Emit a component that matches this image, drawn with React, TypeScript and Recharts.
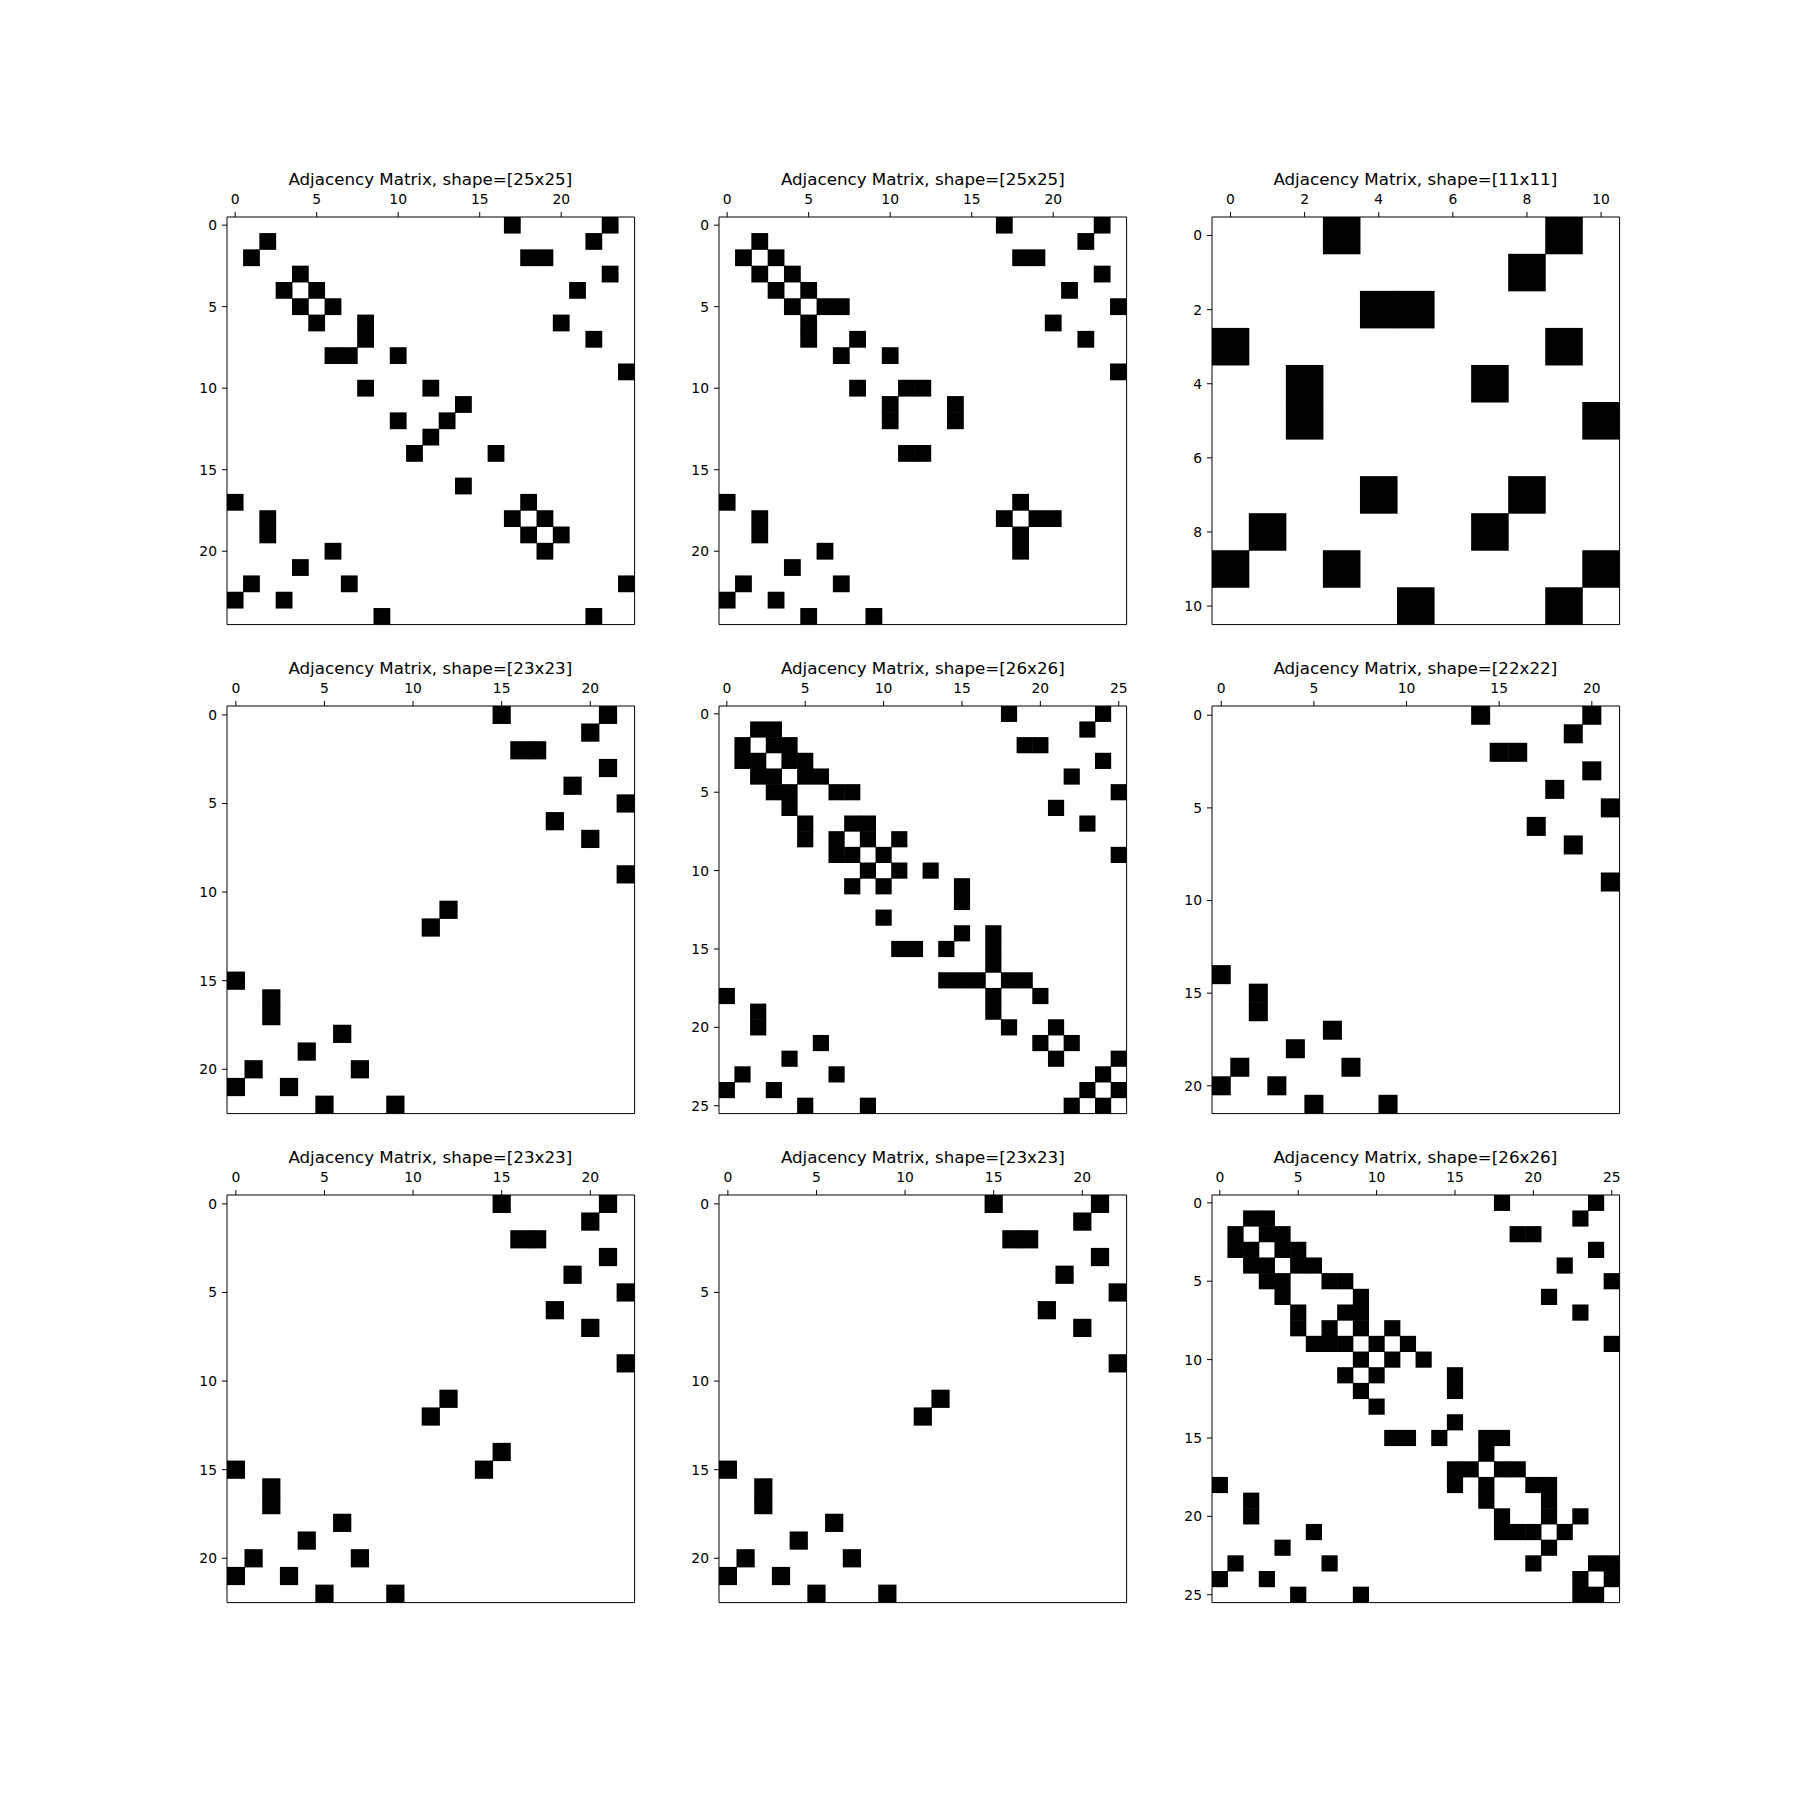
import { ScatterChart, Scatter, XAxis, YAxis } from "recharts"

// each matrix is stored as adjacency lists: row i -> columns holding a 1
const adj1: number[][] = [
  [17, 23], [2, 22], [1, 18, 19], [4, 23], [3, 5, 21],
  [4, 6], [5, 8, 20], [8, 22], [6, 7, 10], [24],
  [8, 12], [14], [10, 13], [12], [11, 16],
  [], [14], [0, 18], [2, 17, 19], [2, 18, 20],
  [6, 19], [4], [1, 7, 24], [0, 3], [9, 22],
]

const adj2: number[][] = [
  [17, 23], [2, 22], [1, 3, 18, 19], [2, 4, 23], [3, 5, 21],
  [4, 6, 7, 24], [5, 20], [5, 8, 22], [7, 10], [24],
  [8, 11, 12], [10, 14], [10, 14], [], [11, 12],
  [], [], [0, 18], [2, 17, 19, 20], [2, 18],
  [6, 18], [4], [1, 7], [0, 3], [5, 9],
]

const adj3: number[][] = [
  [3, 9], [8], [4, 5], [0, 9], [2, 7], [2, 10],
  [], [4, 8], [1, 7], [0, 3, 10], [5, 9],
]

const adj4: number[][] = [
  [15, 21], [20], [16, 17], [21], [19], [22], [18], [20], [], [22],
  [], [12], [11], [], [], [0], [2], [2], [6], [4],
  [1, 7], [0, 3], [5, 9],
]

const adj5: number[][] = [
  [18, 24], [2, 3, 23], [1, 3, 4, 19, 20], [1, 2, 4, 5, 24], [2, 3, 5, 6, 22],
  [3, 4, 7, 8, 25], [4, 21], [5, 8, 9, 23], [5, 7, 9, 11], [7, 8, 10, 25],
  [9, 11, 13], [8, 10, 15], [15], [10], [15, 17],
  [11, 12, 14, 17], [17], [14, 15, 16, 18, 19], [0, 17, 20], [2, 17],
  [2, 18, 21], [6, 20, 22], [4, 21, 25], [1, 7, 24], [0, 3, 23, 25],
  [5, 9, 22, 24],
]

const adj6: number[][] = [
  [14, 20], [19], [15, 16], [20], [18], [21], [17], [19], [], [21],
  [], [], [], [], [0], [2], [2], [6], [4], [1, 7],
  [0, 3], [5, 9],
]

const adj7: number[][] = [
  [15, 21], [20], [16, 17], [21], [19], [22], [18], [20], [], [22],
  [], [12], [11], [], [15], [0, 14], [2], [2], [6], [4],
  [1, 7], [0, 3], [5, 9],
]

const adj8: number[][] = [
  [15, 21], [20], [16, 17], [21], [19], [22], [18], [20], [], [22],
  [], [12], [11], [], [], [0], [2], [2], [6], [4],
  [1, 7], [0, 3], [5, 9],
]

const adj9: number[][] = [
  [18, 24], [2, 3, 23], [1, 3, 4, 19, 20], [1, 2, 4, 5, 24], [2, 3, 5, 6, 22],
  [3, 4, 7, 8, 25], [4, 9, 21], [5, 8, 9, 23], [5, 7, 9, 11], [6, 7, 8, 10, 12, 25],
  [9, 11, 13], [8, 10, 15], [9, 15], [10], [15],
  [11, 12, 14, 17, 18], [17], [15, 16, 18, 19], [0, 15, 17, 20, 21], [2, 17, 21],
  [2, 18, 21, 23], [6, 18, 19, 20, 22], [4, 21], [1, 7, 20, 24, 25], [0, 3, 23, 25],
  [5, 9, 23, 24],
]

const ticksBy5 = [0, 5, 10, 15, 20]
const ticksBy5to25 = [0, 5, 10, 15, 20, 25]
const ticksBy2 = [0, 2, 4, 6, 8, 10]

const panels = [
  { adj: adj1, ticks: ticksBy5 },
  { adj: adj2, ticks: ticksBy5 },
  { adj: adj3, ticks: ticksBy2 },
  { adj: adj4, ticks: ticksBy5 },
  { adj: adj5, ticks: ticksBy5to25 },
  { adj: adj6, ticks: ticksBy5 },
  { adj: adj7, ticks: ticksBy5 },
  { adj: adj8, ticks: ticksBy5 },
  { adj: adj9, ticks: ticksBy5to25 },
]

const PLOT = 407.6
const COL_LEFT = [226.5, 719, 1211.5]
const ROW_TOP = [216.5, 705.5, 1194.5]
const AXIS_W = 50
const TOP_H = 30
const M_TOP = 30
const FONT = "DejaVu Sans"

function Panel({ adj, ticks, left, top }: { adj: number[][]; ticks: number[]; left: number; top: number }) {
  const n = adj.length
  const cells = adj.flatMap((cols, r) => cols.map((c) => ({ x: c, y: r })))
  const s = PLOT / n
  const domain: [number, number] = [-0.5, n - 0.5]
  const tickStyle = { fill: "#000", fontSize: 13.9, fontFamily: FONT }

  return (
    <div style={{ position: "absolute", left: left - AXIS_W, top: top - TOP_H - M_TOP }}>
      <ScatterChart
        width={AXIS_W + PLOT + 1 + 10}
        height={M_TOP + TOP_H + PLOT + 10}
        margin={{ top: M_TOP, right: 10, bottom: 0, left: 0 }}
      >
        <XAxis
          xAxisId="t"
          orientation="top"
          type="number"
          dataKey="x"
          domain={domain}
          allowDataOverflow
          ticks={ticks}
          interval={0}
          height={TOP_H}
          stroke="#000"
          tickSize={5}
          tickMargin={8}
          tick={tickStyle}
        />
        <XAxis
          xAxisId="b"
          orientation="bottom"
          type="number"
          domain={domain}
          allowDataOverflow
          ticks={ticks}
          interval={0}
          height={10}
          stroke="#000"
          tickSize={5}
          tick={false}
        />
        <YAxis
          yAxisId="l"
          type="number"
          dataKey="y"
          domain={domain}
          reversed
          allowDataOverflow
          ticks={ticks}
          interval={0}
          width={AXIS_W}
          stroke="#000"
          tickSize={5}
          tickMargin={5}
          tick={tickStyle}
        />
        <YAxis
          yAxisId="r"
          orientation="right"
          type="number"
          domain={domain}
          allowDataOverflow
          width={1}
          stroke="#000"
          tick={false}
          tickLine={false}
        />
        <Scatter
          data={cells}
          xAxisId="t"
          yAxisId="l"
          isAnimationActive={false}
          shape={(p: any) => (
            <rect x={p.cx - s / 2 - 0.25} y={p.cy - s / 2 - 0.25} width={s + 0.5} height={s + 0.5} fill="#000" />
          )}
        />
      </ScatterChart>
      <div
        style={{
          position: "absolute",
          left: AXIS_W,
          top: M_TOP + TOP_H - 45.2,
          width: PLOT,
          textAlign: "center",
          fontFamily: FONT,
          fontSize: 16.7,
          lineHeight: 1,
          whiteSpace: "nowrap",
          color: "#000",
        }}
      >
        Adjacency Matrix, shape=[{n}x{n}]
      </div>
    </div>
  )
}

export default function App() {
  return (
    <div style={{ position: "absolute", left: 0, top: 0, width: 1800, height: 1800, background: "#fff" }}>
      {panels.map((p, i) => (
        <Panel key={i} adj={p.adj} ticks={p.ticks} left={COL_LEFT[i % 3]} top={ROW_TOP[Math.floor(i / 3)]} />
      ))}
    </div>
  )
}
